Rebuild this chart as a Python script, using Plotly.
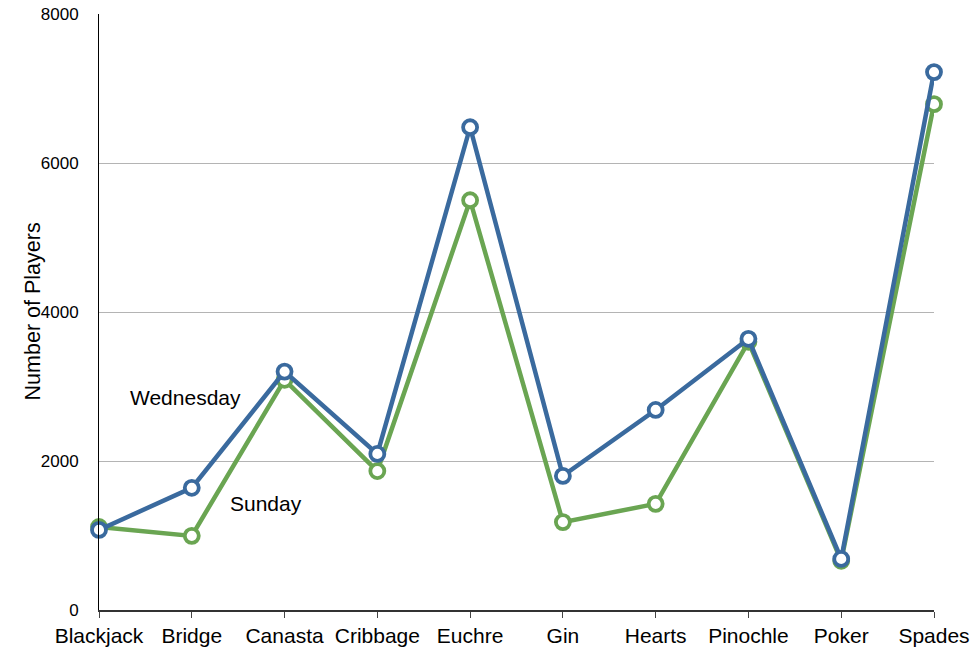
import plotly.graph_objects as go

games = ["Blackjack", "Bridge", "Canasta", "Cribbage", "Euchre",
         "Gin", "Hearts", "Pinochle", "Poker", "Spades"]
wednesday = [1075, 1640, 3200, 2095, 6480, 1800, 2685, 3640, 685, 7220]
sunday = [1115, 995, 3090, 1865, 5500, 1180, 1425, 3600, 660, 6790]
y_ticks = [0, 2000, 4000, 6000, 8000]

BLUE = "#3A6A9E"
GREEN = "#6AA552"
FONT = "Liberation Sans, Arial, Helvetica, sans-serif"

fig = go.Figure()
for name, vals, color in [("Sunday", sunday, GREEN), ("Wednesday", wednesday, BLUE)]:
    fig.add_trace(go.Scatter(
        x=list(range(len(games))), y=vals, name=name, mode="lines+markers",
        line=dict(color=color, width=4.5),
        marker=dict(symbol="circle", size=14, color="white",
                    line=dict(color=color, width=3.8)),
        cliponaxis=False, showlegend=False,
    ))

fig.add_annotation(x=0.93, y=2850, text="Wednesday", showarrow=False,
                   font=dict(size=21, color="black", family=FONT))
fig.add_annotation(x=1.8, y=1435, text="Sunday", showarrow=False,
                   font=dict(size=21, color="black", family=FONT))
# y-axis title, placed in the left margin
fig.add_annotation(xref="paper", yref="paper", x=-0.0958, y=0.501,
                   text="Number of Players", textangle=-90, showarrow=False,
                   font=dict(size=21.5, color="black", family=FONT))

fig.update_layout(
    width=975, height=652,
    margin=dict(l=99, r=41, t=14, b=42),
    paper_bgcolor="white", plot_bgcolor="white",
    font=dict(family=FONT, color="black"),
)
fig.update_xaxes(
    range=[0, len(games) - 1], tickmode="array",
    tickvals=list(range(len(games))), ticktext=games,
    tickfont=dict(size=21), showgrid=False, zeroline=False,
    showline=True, linecolor="#333", linewidth=1.5,
    ticks="outside", ticklen=6, tickcolor="#444", tickwidth=1,
    automargin=False,
)
fig.update_yaxes(
    range=[0, 8000], tickvals=y_ticks, tickfont=dict(size=17),
    showgrid=True, gridcolor="#B4B4B4", gridwidth=1, zeroline=False,
    showline=True, linecolor="black", linewidth=1, ticks="",
    ticklabelstandoff=16, automargin=False,
)

fig.write_html("out.html")
